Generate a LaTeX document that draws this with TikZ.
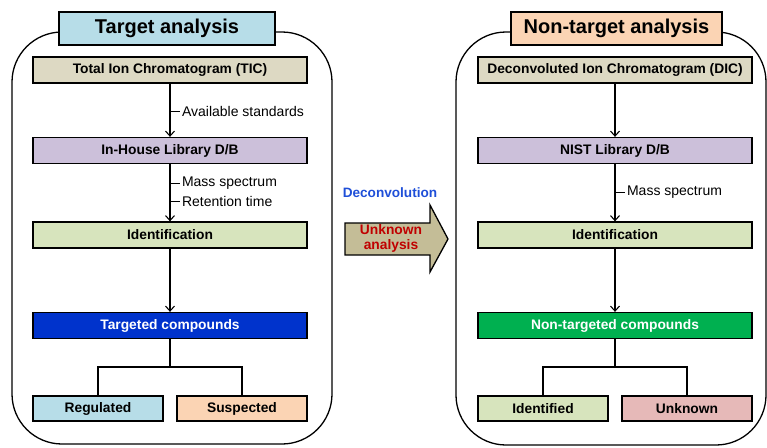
\documentclass[tikz,border=0pt]{standalone}
\usepackage{fontspec}
\setmainfont{Liberation Sans}
\usetikzlibrary{arrows.meta}
\definecolor{cTitleL}{HTML}{B7DDE8}
\definecolor{cTitleR}{HTML}{FBD4B4}
\definecolor{cTan}{HTML}{DDD9C3}
\definecolor{cLav}{HTML}{CCC0DA}
\definecolor{cLgreen}{HTML}{D7E4BD}
\definecolor{cBlue}{HTML}{0033CC}
\definecolor{cGreen}{HTML}{00B050}
\definecolor{cPink}{HTML}{E6B9B8}
\definecolor{cArrow}{HTML}{C4BD97}
\definecolor{cRed}{HTML}{C00000}
\definecolor{cDeconv}{HTML}{1F4FD8}
\tikzset{
  panel/.style={draw, line width=1.3pt, rounded corners=50pt},
  titlebox/.style={draw, line width=1.3pt, minimum width=216pt, minimum height=33pt, font=\fontsize{20}{22}\selectfont\bfseries, inner sep=0pt},
  stepbox/.style={draw, line width=1.3pt, minimum width=274pt, minimum height=26pt, font=\fontsize{13.8}{15}\selectfont\bfseries, inner sep=0pt},
  leafbox/.style={draw, line width=1.3pt, minimum width=130pt, minimum height=25pt, font=\fontsize{13.8}{15}\selectfont\bfseries, inner sep=0pt},
  flow/.style={line width=1.1pt, -{Straight Barb[length=5pt,width=9pt,line width=1.1pt]}},
  link/.style={line width=1.1pt},
  tick/.style={line width=1.1pt},
  lbl/.style={font=\fontsize{14}{15}\selectfont, anchor=west, inner sep=1.5pt},
}
\begin{document}
\begin{tikzpicture}[x=1pt,y=-1pt]
\useasboundingbox (0,0) rectangle (767,447);
% panels
\draw[panel] (12,32) rectangle (332,444);
\draw[panel] (456,32) rectangle (766,445);
% left column
\node[titlebox, fill=cTitleL] (tl) at (167,28.5) {Target analysis};
\node[stepbox, fill=cTan] (tic) at (170,70) {Total Ion Chromatogram (TIC)};
\node[stepbox, fill=cLav] (lib) at (170,150.5) {In-House Library D/B};
\node[stepbox, fill=cLgreen] (idl) at (170,235) {Identification};
\node[stepbox, fill=cBlue, text=white] (tc) at (170,325.5) {Targeted compounds};
\node[leafbox, fill=cTitleL] (reg) at (98,408.5) {Regulated};
\node[leafbox, fill=cTitleR] (sus) at (242,408.5) {Suspected};
\draw[flow] (tic.south) -- coordinate[pos=0.53] (a1) (lib.north);
\draw[tick] (a1) -- ++(10,0) node[lbl] {Available standards};
\draw[flow] (lib.south) -- coordinate[pos=0.34] (a2) coordinate[pos=0.66] (a3) (idl.north);
\draw[tick] (a2) -- ++(10,0) node[lbl] {Mass spectrum};
\draw[tick] (a3) -- ++(10,0) node[lbl] {Retention time};
\draw[flow] (idl.south) -- (tc.north);
\coordinate (bl) at (170,367);
\draw[link] (tc.south) -- (bl);
\draw[link] (reg.north) |- (bl) -| (sus.north);
% right column
\node[titlebox, fill=cTitleR, minimum width=211pt] (tr) at (616.5,28.5) {Non-target analysis};
\node[stepbox, fill=cTan] (dic) at (615,70) {Deconvoluted Ion Chromatogram (DIC)};
\node[stepbox, fill=cLav] (nist) at (615,150.5) {NIST Library D/B};
\node[stepbox, fill=cLgreen] (idr) at (615,235) {Identification};
\node[stepbox, fill=cGreen, text=white] (ntc) at (615,325.5) {Non-targeted compounds};
\node[leafbox, fill=cLgreen] (idf) at (543,408.5) {Identified};
\node[leafbox, fill=cPink] (unk) at (687,408.5) {Unknown};
\draw[flow] (dic.south) -- (nist.north);
\draw[flow] (nist.south) -- coordinate[pos=0.49] (b1) (idr.north);
\draw[tick] (b1) -- ++(10,0) node[lbl] {Mass spectrum};
\draw[flow] (idr.south) -- (ntc.north);
\coordinate (br) at (615,367);
\draw[link] (ntc.south) -- (br);
\draw[link] (idf.north) |- (br) -| (unk.north);
% middle arrow
\draw[line width=1.3pt, fill=cArrow, line join=miter]
  (345,223) -- (430,223) -- (430,205) -- (448,239) -- (430,272) -- (430,255) -- (345,255) -- cycle;
\node[font=\fontsize{13.8}{15}\selectfont\bfseries, text=cRed, align=center, inner sep=0pt] (ua) at (391,238) {Unknown\\analysis};
\node[font=\fontsize{13.6}{15}\selectfont\bfseries, text=cDeconv, inner sep=0pt] (dc) at (390,193) {Deconvolution};
\end{tikzpicture}
\end{document}
